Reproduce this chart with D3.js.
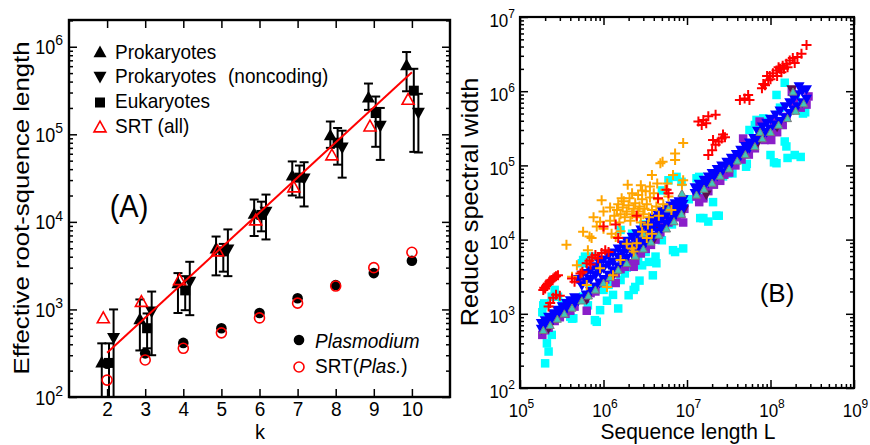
<!DOCTYPE html>
<html><head><meta charset="utf-8">
<script src="https://cdn.jsdelivr.net/npm/d3@7"></script>
<style>
body{margin:0;background:#fff}
svg{display:block}
text{font-family:"Liberation Sans",Arial,Helvetica,sans-serif}
</style>
</head><body>
<svg id="c" width="870" height="445"></svg>
<script>
// ---------------- Panel A data ----------------
const kValues = [2, 3, 4, 5, 6, 7, 8, 9, 10];
const prok      = [250, 780, 2000, 5000, 12500, 34000, 98000, 265000, 620000];
const prokLo    = [60, 340, 910, 2450, 6900, 20000, 70000, 190000, 310000];
const prokHi    = [410, 1300, 2600, 6800, 18000, 49000, 140000, 380000, 870000];
const noncod    = [470, 940, 2050, 4800, 13000, 31000, 70000, 124000, 175000];
const noncodLo  = [60, 300, 860, 2400, 6300, 15000, 32000, 51000, 62000];
const noncodHi  = [1000, 1600, 3500, 8200, 20500, 48000, 110000, 200000, 290000];
const euk       = [245, 610, 1650, 4600, 12000, 32000, 80000, 175000, 315000];
const eukLo     = [60, 360, 980, 2700, 7800, 19000, 45000, 72000, 63000];
const eukHi     = [410, 900, 2400, 5600, 17000, 44000, 118000, 270000, 560000];
const srtAll    = [800, 1230, 2180, 4650, 10500, 25000, 58000, 124000, 250000];
const plas      = [240, 315, 415, 610, 910, 1340, 1900, 2600, 3600];
const srtPlas   = [156, 265, 360, 540, 800, 1180, 1850, 3000, 4500];
const fitK      = [2, 10];
const fitVal    = [320, 510000];
const yTicksA   = [1e2, 1e3, 1e4, 1e5, 1e6];

// ---------------- Panel B data ----------------
const xTicksB = [1e5, 1e6, 1e7, 1e8, 1e9];
const yTicksB = [1e2, 1e3, 1e4, 1e5, 1e6, 1e7];
const cyanSq = [[2.0e5,215],[2.2e5,310],[2.1e5,400],[2.4e5,520],[1.9e5,1300],[1.95e5,1380],[1.85e5,1050],[2.6e5,2100],[2.85e5,1700],[2.4e5,1700],[2.9e5,910],[4.0e5,910],[4.35e5,870],[4.2e5,860],[5.7e5,1700],[7.9e5,820],[8.3e5,780],[9.1e5,1120],[1.0e6,2100],[1.15e6,2450],[1.5e6,1180],[1.6e6,2850],[2.0e6,1780],[2.3e6,2100],[2.4e6,2300],[2.9e6,4500],[3.5e6,5000],[3.9e6,3300],[4.2e6,5900],[4.3e6,4800],[5.0e6,9800],[6.8e6,7200],[7.2e6,6800],[9.0e6,7600],[5.5e5,4800],[5.7e5,5300],[6.0e5,5900],[7.2e5,5900],[1.6e6,13500],[5.0e6,46000],[6.0e6,63000],[6.6e6,16000],[7.5e6,70000],[8.6e6,60000],[1.4e7,70000],[1.05e7,35000],[3.2e5,1400],[3.5e5,1150],[6.5e5,1300],[1.2e6,2700],[1.8e6,3500],[2.6e6,5500],[3.2e6,6800],[1.3e6,1800],[1.1e6,1500],[7e5,2200],[1.9e6,4200],[2.2e6,12000],[3e6,16000],[2.7e6,2800],
  [1.44e7,19500],[1.57e7,19500],[1.8e7,17500],[2.25e7,21000],[2.4e7,21000],[1.58e7,38000],[2.05e7,32000],[1.3e7,67000],[2.7e7,71000],[3.1e7,78000],[3.5e7,78000],[5.1e7,96000],[5.2e7,105000],[5.6e7,300000],[6.5e7,350000],[6.8e7,410000],[7.4e7,300000],[8.2e7,430000],[8.6e7,240000],[1.0e8,138000],[1.1e8,110000],[1.18e8,107000],[1.48e8,210000],[1.55e8,180000],[1.6e8,126000],[1.95e8,138000],[2.3e8,130000],[2.45e8,500000],[2.6e8,520000],[1.18e8,890000],[1.48e8,1300000],[2.0e8,750000],[1.3e8,600000]];
const purpleSq = [[1.85e5,520],[2.0e5,600],[2.2e5,650],[2.6e5,800],[3.0e5,900],[3.5e5,1000],[4.0e5,1100],[4.5e5,1250],[5.2e5,2900],[6.3e5,1100],[6.0e5,1600],[7.0e5,1900],[8.0e5,2000],[9.0e5,2600],[1.05e6,2900],[1.2e6,3200],[1.4e6,2600],[1.4e6,3500],[1.6e6,4000],[1.8e6,4300],[2.1e6,4800],[2.3e6,4300],[2.4e6,5200],[2.8e6,6500],[3.2e6,7500],[3.7e6,8500],[4.2e6,10000],[4.8e6,12500],[5.2e6,17000],[6.0e6,17000],[6.6e6,18000],[7.5e6,20000],[8.5e6,22000],[9.0e6,17000],[9.3e6,26000],
  [1.3e7,38000],[1.4e7,32000],[1.57e7,36000],[1.8e7,45000],[2.0e7,70000],[2.1e7,55000],[2.5e7,62000],[2.8e7,75000],[3.2e7,80000],[3.8e7,100000],[4.5e7,120000],[4.7e7,230000],[5.5e7,140000],[6.5e7,170000],[7.4e7,390000],[8.5e7,220000],[1.02e8,220000],[1.1e8,400000],[1.2e8,280000],[1.4e8,350000],[1.55e8,450000],[1.8e8,980000],[1.9e8,690000],[2.3e8,600000],[2.7e8,660000],[2.85e8,850000]];
const maroonTri = [[6.3e5,1550],[2.2e5,640],[1.3e6,3300],[4e6,10000],[4.6e6,14000],[9.1e6,25000],[1.7e7,40000],[7e7,200000],[1.2e8,330000],[1.8e8,1050000]];
const blueTri = [[1.8e5,620],[1.8e5,740],[2.0e5,690],[2.0e5,810],[2.2e5,760],[2.2e5,900],[2.5e5,850],[2.5e5,1000],[2.8e5,950],[2.8e5,1120],[3.2e5,1050],[3.2e5,1250],[3.6e5,1150],[3.6e5,1380],[4.0e5,1250],[4.0e5,1500],[4.5e5,1350],[4.5e5,1650],[5.0e5,1500],[5.0e5,2900],[5.5e5,1600],[5.5e5,2400],[5.5e5,3300],[6.2e5,1800],[6.2e5,2700],[6.2e5,3500],[7.0e5,2000],[7.0e5,2900],[7.0e5,3800],[8.0e5,2300],[8.0e5,3300],[8.0e5,4300],[9.0e5,2600],[9.0e5,3700],[9.0e5,4800],[1.0e6,2900],[1.0e6,4100],[1.0e6,5300],[1.15e6,3300],[1.15e6,4600],[1.15e6,6000],[1.3e6,3800],[1.3e6,5000],[1.3e6,6600],[1.5e6,4300],[1.5e6,5800],[1.5e6,7500],[1.7e6,5000],[1.7e6,6500],[1.7e6,8500],[1.9e6,5600],[1.9e6,7300],[1.9e6,9500],[2.2e6,6400],[2.2e6,8300],[2.2e6,10800],[2.5e6,7300],[2.5e6,9400],[2.5e6,12000],[2.8e6,8200],[2.8e6,10500],[2.8e6,13500],[3.2e6,9000],[3.2e6,12000],[3.2e6,15500],[3.6e6,10000],[3.6e6,13500],[3.6e6,17500],[4.0e6,11000],[4.0e6,15000],[4.0e6,19500],[4.5e6,12500],[4.5e6,17000],[4.5e6,21500],[5.0e6,14000],[5.0e6,19000],[5.0e6,24000],[5.7e6,16000],[5.7e6,21000],[5.7e6,26500],[6.4e6,18000],[6.4e6,23000],[6.4e6,28500],[7.2e6,20500],[7.2e6,25000],[7.2e6,30500],[8.0e6,23000],[8.0e6,27000],[8.0e6,32500],[9.0e6,26000],[9.0e6,30000],[9.0e6,34500],
  [1.25e7,42000],[1.25e7,50000],[1.4e7,46000],[1.4e7,56000],[1.6e7,52000],[1.6e7,63000],[1.8e7,58000],[1.8e7,70000],[2.0e7,64000],[2.0e7,78000],[2.3e7,72000],[2.3e7,88000],[2.6e7,80000],[2.6e7,98000],[3.0e7,92000],[3.0e7,110000],[3.4e7,105000],[3.4e7,125000],[3.9e7,120000],[3.9e7,140000],[4.4e7,135000],[4.4e7,160000],[5.0e7,150000],[5.0e7,180000],[5.6e7,170000],[5.6e7,200000],[6.3e7,190000],[6.3e7,230000],[7.0e7,220000],[7.0e7,290000],[8.0e7,250000],[8.0e7,330000],[9.0e7,280000],[9.0e7,370000],[1.0e8,310000],[1.0e8,420000],[1.15e8,350000],[1.15e8,480000],[1.3e8,390000],[1.3e8,540000],[1.5e8,440000],[1.5e8,620000],[1.7e8,500000],[1.7e8,700000],[1.9e8,560000],[1.9e8,800000],[2.1e8,620000],[2.1e8,900000],[2.2e8,1150000],[2.4e8,700000],[2.4e8,1000000],[2.7e8,780000],[2.7e8,1050000]];
const tealTri = [[1.9e5,600],[2.3e5,700],[2.8e5,850],[3.4e5,1000],[4.2e5,1200],[5.5e5,1500],[6.6e5,1750],[8e5,2100],[1e6,2600],[1.2e6,3100],[1.5e6,3900],[1.9e6,4800],[2.4e6,6000],[3e6,7500],[3.7e6,9300],[4.6e6,11500],[5.7e6,14000],[7e6,17500],[8.6e6,22000],[8.7e6,42000],[6e6,26000],[3e6,12000],[1.3e7,40000],[1.6e7,48000],[2e7,58000],[2.5e7,72000],[3.2e7,90000],[4e7,115000],[5e7,140000],[6.5e7,180000],[7.5e7,280000],[8e7,230000],[1e8,280000],[1.25e8,350000],[1.6e8,430000],[2e8,540000],[2.5e8,680000],[1.86e8,980000]];
const orangePlus = [[3.6e5,8500],[4.2e5,3150],[5.7e5,12800],[6.5e5,7200],[6.3e5,2450],[7.2e5,10500],[8.3e5,15000],[9.1e5,17400],[9.5e5,34000],[9.1e5,4100],[1.0e6,14000],[1.1e6,2300],[1.2e6,18000],[1.25e6,12000],[1.3e6,3300],[1.6e6,13000],[1.6e6,5300],[2.3e6,6900],[2.5e6,8900],[2.2e6,7600],[2.9e6,12800],[3.3e6,10500],[3.8e6,12000],[1.45e6,25000],[1.5e6,30000],[1.55e6,17000],[1.6e6,22000],[1.65e6,36000],[1.7e6,27000],[1.75e6,33000],[1.8e6,20000],[1.9e6,24000],[1.95e6,55000],[2.0e6,29000],[2.05e6,36000],[2.1e6,18000],[2.2e6,22000],[2.3e6,26000],[2.4e6,31000],[2.5e6,20000],[2.6e6,24000],[2.7e6,28000],[2.8e6,17000],[2.9e6,46000],[2.9e6,35000],[3.0e6,22000],[3.1e6,26000],[3.3e6,30000],[3.5e6,20000],[3.6e6,37000],[3.8e6,25000],[3.8e6,74000],[4.0e6,42000],[4.3e6,28000],[4.4e6,57000],[4.8e6,107000],[5.1e6,112000],[5.8e6,57000],[6.8e6,74000],[7.2e6,145000],[7.2e6,118000],[9.0e6,200000],[9.0e6,63000],[8.7e6,55000],[5.5e6,47000],[4.6e6,21000],[5.2e6,30000],[6.0e6,38000],[6.5e6,25000],[2.2e6,42000],[2.6e6,40000],[3.4e6,16000],[1.35e6,21000],[1.2e6,27000],[7.6e5,20000],[6.8e5,11000],[1.0e6,24000],[4.5e6,35000],[3.2e6,45000],[4.8e5,4500],[5.5e5,3600],[1.9e6,8800],[1.4e6,10800],[2.8e6,54000],[3.6e6,52000]];
const redPlus = [[1.9e5,2100],[1.95e5,2250],[2.0e5,2200],[2.05e5,2350],[2.1e5,2450],[2.15e5,2550],[2.2e5,2500],[2.25e5,2700],[2.3e5,2800],[2.4e5,2850],[2.5e5,3000],[2.6e5,3100],[2.7e5,3200],[2.85e5,3300],[2.3e5,1400],[2.2e5,1250],[2.5e5,1650],[2.7e5,1800],[3.0e5,1750],[4.2e5,3000],[4.5e5,2700],[5.3e5,3500],[5.6e5,3700],[6.3e5,4800],[6.8e5,5200],[7.3e5,5800],[8e5,6200],[8.6e5,5600],[9.5e5,6600],[1.05e6,7200],[1.15e6,6800],[1.0e6,15000],[1.4e6,16000],[1.5e6,10500],[2.5e6,21000],[4.5e6,36000],[5.7e6,47000],[6e6,42000],[7e5,4600],
  [1.37e7,390000],[1.5e7,350000],[1.57e7,410000],[1.7e7,370000],[1.8e7,460000],[2.2e7,480000],[1.8e7,138000],[2.0e7,160000],[2.05e7,220000],[2.2e7,190000],[2.4e7,210000],[2.6e7,230000],[2.7e7,260000],[2.85e7,240000],[4.3e7,760000],[4.9e7,800000],[5.4e7,890000],[5.6e7,760000],[7.9e7,1100000],[8.2e7,1250000],[8.6e7,1200000],[9.1e7,1600000],[9.4e7,1400000],[9.8e7,1600000],[1.0e8,1450000],[1.07e8,1750000],[1.18e8,1900000],[1.2e8,1600000],[1.25e8,2100000],[1.3e8,2000000],[1.35e8,1800000],[1.4e8,2200000],[1.45e8,2000000],[1.55e8,2350000],[1.6e8,2100000],[1.7e8,2600000],[1.85e8,2800000],[1.95e8,2400000],[2.1e8,2900000],[2.35e8,3200000],[2.7e8,4200000]];

// ---------------- helpers ----------------
const svg = d3.select("#c");
const SY = 1.1;
function addText(parent, x, y, size, parts, opts = {}) {
  const anchor = opts.anchor || "start";
  const rot = opts.rotate || 0;
  const s = opts.stretch != null ? opts.stretch : SY;
  const tr = rot ? `translate(${x},${y}) rotate(${rot}) scale(${s},1)` : `translate(${x},${y}) scale(1,${s})`;
  const t = parent.append("text").attr("transform", tr).attr("font-size", size)
    .attr("text-anchor", anchor).attr("fill", "#000");
  parts.forEach(p => {
    if (typeof p === "string") p = {t: p};
    const ts = t.append("tspan").text(p.t);
    if (p.it) ts.attr("font-style", "italic");
    if (p.x != null) ts.attr("x", p.x);
  });
  return t;
}
function triPath(w, up) {
  const h = w * 0.9;
  return up ? `M0,${-h*0.55}L${w/2},${h*0.45}L${-w/2},${h*0.45}Z`
            : `M0,${h*0.55}L${w/2},${-h*0.45}L${-w/2},${-h*0.45}Z`;
}
function plusPath(s) { return `M${-s/2},0H${s/2}M0,${-s/2}V${s/2}`; }
function styleAxis(g) {
  g.attr("font-size", null).attr("font-family", null);
  g.select(".domain").remove();
  g.selectAll(".tick line").attr("stroke", "#000").attr("stroke-width", 1.5);
}
function minorVals(lo, hi) {
  const out = [];
  for (let e = lo; e < hi; e++) for (let m = 2; m <= 9; m++) out.push(m * Math.pow(10, e));
  return out;
}

// ================= PANEL A =================
const A = {l: 69, r: 450, t: 20, b: 397};
const xA = d3.scaleLinear().domain([1, 11]).range([A.l, A.r]);
const yA = d3.scaleLog().domain([100, 2.02e6]).range([A.b, A.t]);
const gA = svg.append("g");
svg.append("clipPath").attr("id", "clipA").append("rect")
  .attr("x", A.l).attr("y", A.t).attr("width", A.r - A.l).attr("height", A.b - A.t);
svg.append("clipPath").attr("id", "clipB");

const axA_b = gA.append("g").attr("transform", `translate(0,${A.b})`)
  .call(d3.axisBottom(xA).tickValues(kValues).tickSizeInner(-8).tickSizeOuter(0).tickFormat(d3.format("d")));
styleAxis(axA_b);
axA_b.selectAll(".tick text").attr("y", null).attr("dy", null)
  .attr("transform", `translate(0,19) scale(1,${SY})`).attr("font-size", 19).attr("fill", "#000");
const axA_t = gA.append("g").attr("transform", `translate(0,${A.t})`)
  .call(d3.axisTop(xA).tickValues(kValues).tickSizeInner(-8).tickSizeOuter(0).tickFormat(""));
styleAxis(axA_t);
[[A.l, d3.axisLeft], [A.r, d3.axisRight]].forEach(([xx, ax], i) => {
  const gm = gA.append("g").attr("transform", `translate(${xx},0)`)
    .call(ax(yA).tickValues(minorVals(2, 6).concat([2e6])).tickSizeInner(-4).tickSizeOuter(0).tickFormat(""));
  styleAxis(gm);
  const gM = gA.append("g").attr("transform", `translate(${xx},0)`)
    .call(ax(yA).tickValues(yTicksA).tickSizeInner(-8).tickSizeOuter(0).tickFormat(i === 0 ? (d => d) : ""));
  styleAxis(gM);
  if (i === 0) {
    gM.selectAll(".tick text").each(function(d) {
      const t = d3.select(this);
      t.text(null).attr("x", null).attr("dy", null).attr("text-anchor", "end")
        .attr("font-size", 18).attr("fill", "#000")
        .attr("transform", `translate(-6,7) scale(1,${SY})`);
      t.append("tspan").text("10");
      t.append("tspan").attr("font-size", 14).attr("dy", -8).text(Math.round(Math.log10(d)));
    });
  }
});

const cA = gA.append("g").attr("clip-path", "url(#clipA)");
const offUp = -0.14, offSq = 0.05, offDn = 0.17, offSrt = -0.1;
function errBars(lo, hi, off) {
  const g = cA.append("g").attr("stroke", "#000").attr("stroke-width", 2);
  kValues.forEach((k, i) => {
    const x = xA(k + off);
    g.append("line").attr("x1", x).attr("x2", x).attr("y1", yA(lo[i])).attr("y2", yA(hi[i]));
    [lo[i], hi[i]].forEach(v => g.append("line").attr("x1", x - 4.5).attr("x2", x + 4.5).attr("y1", yA(v)).attr("y2", yA(v)));
  });
}
errBars(prokLo, prokHi, offUp);
errBars(eukLo, eukHi, offSq);
errBars(noncodLo, noncodHi, offDn);
cA.append("g").selectAll("path").data(kValues).join("path")
  .attr("d", triPath(13, true)).attr("fill", "#000")
  .attr("transform", (k, i) => `translate(${xA(k + offUp)},${yA(prok[i])})`);
cA.append("g").selectAll("rect").data(kValues).join("rect")
  .attr("width", 10).attr("height", 10).attr("fill", "#000")
  .attr("x", k => xA(k + offSq) - 5).attr("y", (k, i) => yA(euk[i]) - 5);
cA.append("g").selectAll("path").data(kValues).join("path")
  .attr("d", triPath(13, false)).attr("fill", "#000")
  .attr("transform", (k, i) => `translate(${xA(k + offDn)},${yA(noncod[i])})`);
cA.append("path").datum(fitK.map((k, i) => [k, fitVal[i]]))
  .attr("d", d3.line().x(d => xA(d[0])).y(d => yA(d[1])))
  .attr("stroke", "#ff0000").attr("stroke-width", 2).attr("fill", "none");
cA.append("g").selectAll("path").data(kValues).join("path")
  .attr("d", triPath(12, true)).attr("fill", "none").attr("stroke", "#ff0000").attr("stroke-width", 1.6)
  .attr("transform", (k, i) => `translate(${xA(k + offSrt)},${yA(srtAll[i])})`);
cA.append("g").selectAll("circle").data(kValues).join("circle")
  .attr("r", 5.3).attr("fill", "#000")
  .attr("cx", k => xA(k)).attr("cy", (k, i) => yA(plas[i]));
cA.append("g").selectAll("circle").data(kValues).join("circle")
  .attr("r", 5).attr("fill", "none").attr("stroke", "#ff0000").attr("stroke-width", 1.6)
  .attr("cx", k => xA(k)).attr("cy", (k, i) => yA(srtPlas[i]));

gA.append("rect").attr("x", A.l).attr("y", A.t).attr("width", A.r - A.l).attr("height", A.b - A.t)
  .attr("fill", "none").attr("stroke", "#000").attr("stroke-width", 2.4);

gA.append("path").attr("d", triPath(13, true)).attr("transform", "translate(100,52)");
gA.append("path").attr("d", triPath(13, false)).attr("transform", "translate(100,77)");
gA.append("rect").attr("x", 95).attr("y", 97.5).attr("width", 10).attr("height", 10);
gA.append("path").attr("d", triPath(12, true)).attr("transform", "translate(100,127)")
  .attr("fill", "none").attr("stroke", "#ff0000").attr("stroke-width", 1.6);
addText(gA, 115, 58.5, 19, ["Prokaryotes"]);
addText(gA, 115, 82.5, 19, ["Prokaryotes", {t: "(noncoding)", x: 113}]);
addText(gA, 115, 107.5, 19, ["Eukaryotes"]);
addText(gA, 115, 132.5, 19, ["SRT (all)"]);
gA.append("circle").attr("cx", 299).attr("cy", 340).attr("r", 5.3);
gA.append("circle").attr("cx", 299).attr("cy", 367).attr("r", 5).attr("fill", "none").attr("stroke", "#ff0000").attr("stroke-width", 1.6);
addText(gA, 315, 348, 19, [{t: "Plasmodium", it: true}]);
addText(gA, 315, 373, 19, ["SRT(", {t: "Plas.", it: true}, ")"]);
addText(gA, 129, 216.5, 29, ["(A)"], {anchor: "middle"});
addText(gA, 28.5, 208, 23, ["Effective root-squence length"], {anchor: "middle", rotate: -90, stretch: 1.12});
addText(gA, 260, 439, 20, ["k"], {anchor: "middle", stretch: 1.05});

// ================= PANEL B =================
const B = {l: 520, r: 854, t: 17, b: 388};
const xB = d3.scaleLog().domain([1e5, 1e9]).range([B.l, B.r]);
const yB = d3.scaleLog().domain([1e2, 1e7]).range([B.b, B.t]);
const gB = svg.append("g");
d3.select("#clipB").append("rect").attr("x", B.l).attr("y", B.t).attr("width", B.r - B.l).attr("height", B.b - B.t);

const cB = gB.append("g").attr("clip-path", "url(#clipB)");
function squares(data, color, s) {
  cB.append("g").selectAll("rect").data(data).join("rect")
    .attr("x", d => xB(d[0]) - s / 2).attr("y", d => yB(d[1]) - s / 2)
    .attr("width", s).attr("height", s).attr("fill", color);
}
function tris(data, color, w, up, stroke) {
  const g = cB.append("g").selectAll("path").data(data).join("path")
    .attr("d", triPath(w, up)).attr("fill", color)
    .attr("transform", d => `translate(${xB(d[0])},${yB(d[1])})`);
  if (stroke) g.attr("stroke", stroke).attr("stroke-width", 1);
}
function pluses(data, color, s) {
  cB.append("g").selectAll("path").data(data).join("path")
    .attr("d", plusPath(s)).attr("stroke", color).attr("stroke-width", 2).attr("fill", "none")
    .attr("transform", d => `translate(${xB(d[0])},${yB(d[1])})`);
}
squares(cyanSq, "#00ffff", 8.5);
squares(purpleSq, "#8a1fc9", 8.5);
tris(maroonTri, "#5c0f4d", 11, false);
tris(blueTri, "#0000ff", 11, false);
tris(tealTri, "#40c8b8", 8, true, "#7a7a7a");
pluses(orangePlus, "#ffa500", 10);
pluses(redPlus, "#ff0000", 10);

[[B.b, d3.axisBottom, true], [B.t, d3.axisTop, false]].forEach(([yy, ax, lab]) => {
  const gm = gB.append("g").attr("transform", `translate(0,${yy})`)
    .call(ax(xB).tickValues(minorVals(5, 9)).tickSizeInner(-4).tickSizeOuter(0).tickFormat(""));
  styleAxis(gm);
  const gM = gB.append("g").attr("transform", `translate(0,${yy})`)
    .call(ax(xB).tickValues(xTicksB).tickSizeInner(-8).tickSizeOuter(0).tickFormat(lab ? (d => d) : ""));
  styleAxis(gM);
  if (lab) {
    gM.selectAll(".tick text").each(function(d) {
      const t = d3.select(this);
      t.text(null).attr("y", null).attr("dy", null).attr("text-anchor", "middle")
        .attr("font-size", 17).attr("fill", "#000")
        .attr("transform", `translate(1,29) scale(1,${SY})`);
      t.append("tspan").text("10");
      t.append("tspan").attr("font-size", 12).attr("dy", -8).text(Math.round(Math.log10(d)));
    });
  }
});
[[B.l, d3.axisLeft, true], [B.r, d3.axisRight, false]].forEach(([xx, ax, lab]) => {
  const gm = gB.append("g").attr("transform", `translate(${xx},0)`)
    .call(ax(yB).tickValues(minorVals(2, 7)).tickSizeInner(-4).tickSizeOuter(0).tickFormat(""));
  styleAxis(gm);
  const gM = gB.append("g").attr("transform", `translate(${xx},0)`)
    .call(ax(yB).tickValues(yTicksB).tickSizeInner(-8).tickSizeOuter(0).tickFormat(lab ? (d => d) : ""));
  styleAxis(gM);
  if (lab) {
    gM.selectAll(".tick text").each(function(d) {
      const t = d3.select(this);
      t.text(null).attr("x", null).attr("dy", null).attr("text-anchor", "end")
        .attr("font-size", 17).attr("fill", "#000")
        .attr("transform", `translate(-5,9) scale(1,${SY})`);
      t.append("tspan").text("10");
      t.append("tspan").attr("font-size", 12).attr("dy", -8).text(Math.round(Math.log10(d)));
    });
  }
});
gB.append("rect").attr("x", B.l).attr("y", B.t).attr("width", B.r - B.l).attr("height", B.b - B.t)
  .attr("fill", "none").attr("stroke", "#000").attr("stroke-width", 2.2);
addText(gB, 777, 302, 26, ["(B)"], {anchor: "middle", stretch: 1.0});
addText(gB, 478, 202, 23, ["Reduce spectral width"], {anchor: "middle", rotate: -90, stretch: 1.1});
addText(gB, 688, 439, 21, ["Sequence length L"], {anchor: "middle", stretch: 1.05});
</script>
</body></html>
